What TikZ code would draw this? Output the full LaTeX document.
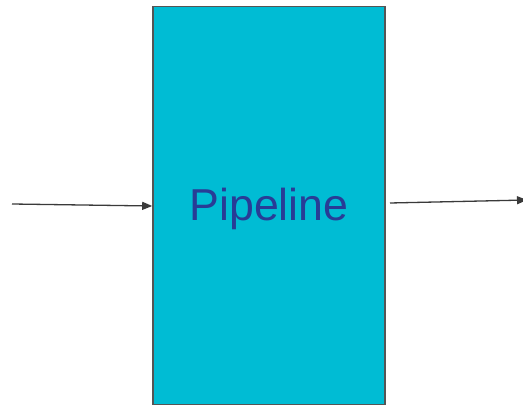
\documentclass[tikz,border=0pt]{standalone}
\usepackage{fontspec}
\setmainfont{Liberation Sans}
\usetikzlibrary{arrows.meta}
\definecolor{boxfill}{HTML}{00BCD4}
\definecolor{boxline}{HTML}{555555}
\definecolor{txtblue}{HTML}{283C96}
\definecolor{arrowc}{HTML}{3A3A3A}
\tikzset{
  stagebox/.style={draw=boxline, line width=1.6pt, fill=boxfill, minimum width=232pt, minimum height=398pt, inner sep=0pt, font=\fontsize{44.7}{50}\selectfont, text=txtblue},
  flow/.style={draw=arrowc, line width=1.3pt, -{Triangle[length=10pt,width=8pt]}}
}
\begin{document}
\begin{tikzpicture}[x=1pt,y=1pt]
\useasboundingbox (0,0) rectangle (523,-406);
\node[stagebox] (p) at (269,-205.5) {};
\node[font=\fontsize{44.7}{50}\selectfont, text=txtblue, inner sep=0pt] (lbl) at (269,-208.5) {Pipeline};
\coordinate (inS) at (12,-204);
\coordinate (outE) at (527,-200);
\coordinate (outS) at (390,-203);
\draw[flow] (inS) -- (p.west |- 0,-206);
\draw[flow] (outS) -- (outE);
\end{tikzpicture}
\end{document}
